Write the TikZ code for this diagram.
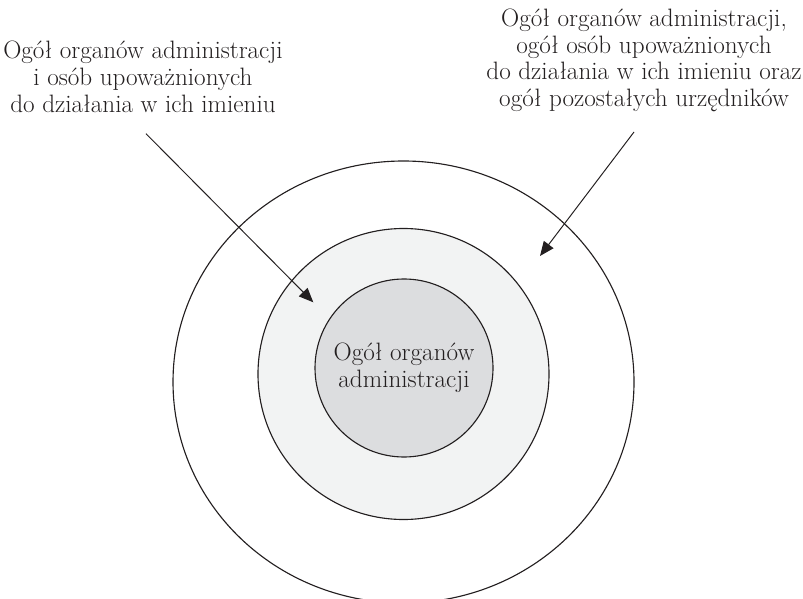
\documentclass[tikz,border=0pt]{standalone}
\usepackage{fontspec}
\usetikzlibrary{arrows.meta}
\definecolor{cline}{HTML}{231F20}
\definecolor{cmid}{HTML}{F2F3F3}
\definecolor{ccore}{HTML}{DCDDDF}
\tikzset{
  every picture/.style={font=\fontsize{17.9}{19}\selectfont, line width=0.8pt},
  ring/.style={draw=cline, fill=#1},
  ring/.default=white,
  arrow/.style={-{Triangle[length=3.6mm, width=3mm]}, draw=cline, line width=0.7pt},
  note/.style={align=center, text=cline},
}

\begin{document}
\begin{tikzpicture}
  \useasboundingbox (0,0) rectangle (20.075,14.95);
  \draw[ring] (10.0875,5.4) ellipse [x radius=5.7625, y radius=5.525];
  \node[ring=cmid, circle, minimum size=7.275cm, inner sep=0pt] (mid) at (10.0875,5.6) {};
  \node[ring=ccore, circle, minimum size=4.45cm, inner sep=0pt, note] (core) at (10.1,5.75) {Ogół organów\\administracji};
  \node[note] (lefttxt) at (3.575,13.025) {Ogół organów administracji\\i osób upoważnionych\\do działania w ich imieniu};
  \node[note] (righttxt) at (16.1,13.44) {Ogół organów administracji,\\ogół osób upoważnionych\\do działania w ich imieniu oraz\\ogół pozostałych urzędników};
  \coordinate (leftfrom) at (3.65,11.6075);
  \coordinate (leftto) at (7.8325,7.3925);
  \coordinate (rightfrom) at (15.85,11.65);
  \coordinate (rightto) at (13.5,8.55);
  \draw[arrow] (leftfrom) -- (leftto);
  \draw[arrow] (rightfrom) -- (rightto);
\end{tikzpicture}
\end{document}
